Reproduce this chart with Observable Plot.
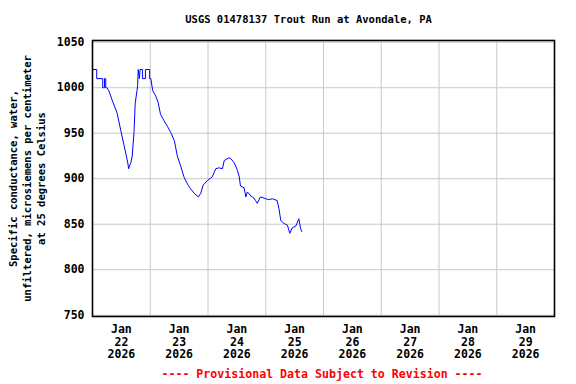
<!DOCTYPE html>
<html>
<head>
<meta charset="utf-8">
<script src="https://cdn.jsdelivr.net/npm/d3@7"></script>
<script src="https://cdn.jsdelivr.net/npm/@observablehq/plot@0.6"></script>
<style>
  html, body { margin: 0; padding: 0; background: #fff; }
  #chart svg { display: block; }
</style>
</head>
<body>
<div id="chart"></div>
<script>
const title = "USGS 01478137 Trout Run at Avondale, PA";
const yLabel = "Specific conductance, water,\nunfiltered, microsiemens per centimeter\nat 25 degrees Celsius";
const footer = "---- Provisional Data Subject to Revision ----";

const times = [
  "2026-01-22 00:00","2026-01-22 01:45","2026-01-22 01:45","2026-01-22 04:15","2026-01-22 04:15",
  "2026-01-22 05:00","2026-01-22 05:00","2026-01-22 05:30","2026-01-22 05:30","2026-01-22 06:00",
  "2026-01-22 06:45","2026-01-22 08:30","2026-01-22 10:15","2026-01-22 11:45","2026-01-22 13:00",
  "2026-01-22 14:00","2026-01-22 14:45","2026-01-22 15:00","2026-01-22 15:30","2026-01-22 16:00",
  "2026-01-22 16:30","2026-01-22 17:15","2026-01-22 17:45","2026-01-22 18:30","2026-01-22 18:45",
  "2026-01-22 19:00","2026-01-22 19:30","2026-01-22 19:45","2026-01-22 20:45","2026-01-22 20:45",
  "2026-01-22 22:00","2026-01-22 22:00","2026-01-22 23:45","2026-01-22 23:45","2026-01-23 00:15",
  "2026-01-23 01:00","2026-01-23 02:15","2026-01-23 03:15","2026-01-23 04:15","2026-01-23 05:15",
  "2026-01-23 07:15","2026-01-23 08:30","2026-01-23 10:00","2026-01-23 11:15","2026-01-23 12:45",
  "2026-01-23 14:00","2026-01-23 15:30","2026-01-23 16:45","2026-01-23 18:15","2026-01-23 20:00",
  "2026-01-23 21:00","2026-01-23 22:00","2026-01-23 23:45","2026-01-24 01:45","2026-01-24 03:15",
  "2026-01-24 04:30","2026-01-24 06:00","2026-01-24 06:45","2026-01-24 08:45","2026-01-24 09:30",
  "2026-01-24 10:45","2026-01-24 11:30","2026-01-24 12:15","2026-01-24 13:00","2026-01-24 13:30",
  "2026-01-24 15:00","2026-01-24 15:45","2026-01-24 16:15","2026-01-24 17:00","2026-01-24 17:45",
  "2026-01-24 18:30","2026-01-24 19:00","2026-01-24 19:45","2026-01-24 20:30","2026-01-24 21:45",
  "2026-01-25 00:00","2026-01-25 01:15","2026-01-25 02:45","2026-01-25 04:45","2026-01-25 05:30",
  "2026-01-25 06:15","2026-01-25 07:30","2026-01-25 09:00","2026-01-25 10:00","2026-01-25 11:00",
  "2026-01-25 12:30","2026-01-25 13:45","2026-01-25 14:30","2026-01-25 15:00"
];
const values = [
  1020,1020,1010,1010,1000,
  1000,1010,1010,1000,1000,
  997,984,972,953,938,
  926,916,911,915,918,
  925,951,983,997,1002,
  1020,1010,1020,1020,1010,
  1010,1020,1020,1010,1010,
  997,991,984,971,966,
  957,951,942,925,913,
  902,894,889,884,880,
  884,893,898,902,911,
  912,911,920,923,922,
  918,914,909,902,892,
  890,880,885,884,881,
  880,879,876,873,880,
  878,877,878,876,867,
  854,851,849,840,846,
  848,856,845,842
];

const tickDays = ["2026-01-22","2026-01-23","2026-01-24","2026-01-25","2026-01-26","2026-01-27","2026-01-28","2026-01-29"];
const tickMonth = "Jan";
const tickYear = "2026";
const gridDays = ["2026-01-23","2026-01-24","2026-01-25","2026-01-26","2026-01-27","2026-01-28","2026-01-29"];
const yTicks = [750, 800, 850, 900, 950, 1000, 1050];

const parseT = d3.utcParse("%Y-%m-%d %H:%M");
const parseD = d3.utcParse("%Y-%m-%d");
const data = times.map((t, i) => ({date: parseT(t), value: values[i]}));
const noons = tickDays.map(d => d3.utcHour.offset(parseD(d), 12));
const midnights = gridDays.map(parseD);

const font = "DejaVu Sans Mono";

const chart = Plot.plot({
  width: 576,
  height: 384,
  marginLeft: 92,
  marginRight: 22,
  marginTop: 40,
  marginBottom: 68,
  style: {fontFamily: font, fontWeight: "bold", fontSize: "11.5px", background: "#fff", color: "#000"},
  x: {type: "utc", domain: [parseD("2026-01-22"), parseD("2026-01-30")]},
  y: {domain: [748.6, 1051.9]},
  marks: [
    Plot.ruleX(midnights, {stroke: "#c8c8c8", strokeWidth: 1}),
    Plot.ruleY(yTicks, {stroke: "#c8c8c8", strokeWidth: 1}),
    Plot.line(data, {x: "date", y: "value", stroke: "#0000ff", strokeWidth: 1}),
    Plot.frame({stroke: "#000", strokeWidth: 1.6}),
    Plot.axisX(noons, {
      tickSize: 0, tickPadding: 7, lineHeight: 1.12,
      tickFormat: d => `${tickMonth}\n${d.getUTCDate()}\n${tickYear}`,
      fontSize: 11.5, fontWeight: "bold", label: null
    }),
    Plot.axisY(yTicks, {tickSize: 0, tickPadding: 8, tickFormat: d => String(d), fontSize: 11.5, fontWeight: "bold", label: null}),
    Plot.text([title], {frameAnchor: "top", dx: -15, dy: -21, fontSize: 10.5, fontWeight: "bold", lineAnchor: "middle"}),
    Plot.text([footer], {frameAnchor: "bottom", dx: -1.5, dy: 58, fontSize: 11.6, fontWeight: "bold", fill: "#ff0000", lineAnchor: "middle"}),
    Plot.text([yLabel], {frameAnchor: "left", dx: -66, dy: 0, rotate: -90, textAnchor: "middle", lineAnchor: "middle", lineHeight: 1.3, fontSize: 10.5, fontWeight: "bold"})
  ]
});
document.getElementById("chart").appendChild(chart);
</script>
</body>
</html>
